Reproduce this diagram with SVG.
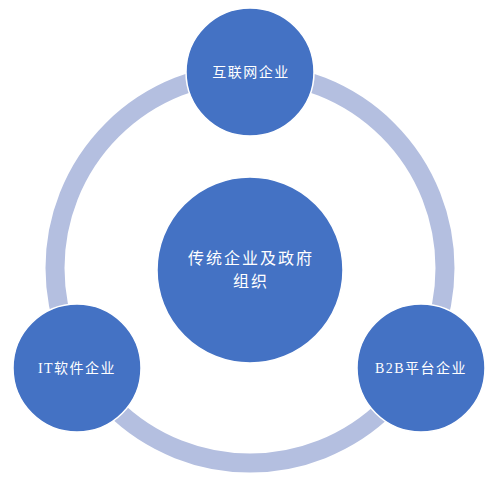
<svg xmlns="http://www.w3.org/2000/svg" width="503" height="482" viewBox="0 0 503 482">
<style>
.node{fill:#4472c4;stroke:#ffffff;stroke-width:1.5}
.t{fill:#ffffff;font-family:"Liberation Serif","Noto Sans CJK SC",serif;text-anchor:middle}
.s{font-size:14px;letter-spacing:1.5px}
.c{font-size:16px;letter-spacing:2px}
</style>
<rect width="503" height="482" fill="#ffffff"/>
<g id="connectors">
<circle cx="250" cy="268" r="195" fill="none" stroke="#b4bfe0" stroke-width="19"/>
</g>
<g id="center">
<circle class="node" cx="250" cy="270" r="93"/>
<text class="t c" x="251" y="264">传统企业及政府</text>
<text class="t c" x="251" y="287">组织</text>
</g>
<g id="top">
<circle class="node" cx="250" cy="72" r="64"/>
<text class="t s" x="251" y="77">互联网企业</text>
</g>
<g id="left">
<circle class="node" cx="77" cy="368" r="64"/>
<text class="t s" x="77" y="373">IT软件企业</text>
</g>
<g id="right">
<circle class="node" cx="421" cy="368" r="64"/>
<text class="t s" x="421" y="373">B2B平台企业</text>
</g>
</svg>
